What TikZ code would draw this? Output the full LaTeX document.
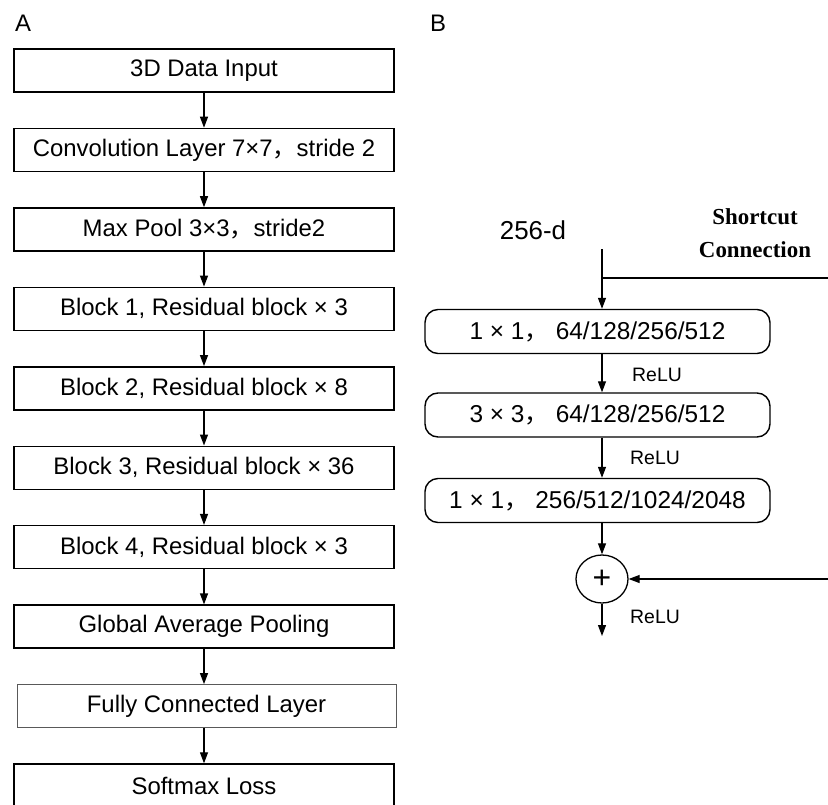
\documentclass[tikz,border=0pt]{standalone}
\usepackage{fontspec}
\setmainfont{Liberation Sans}
\newfontfamily\cjk{Noto Sans CJK SC}
\newfontfamily\tnr{Liberation Serif}
\usetikzlibrary{arrows.meta,shapes.geometric}
\newcommand{\fc}{{\cjk ，}}
\begin{document}
\begin{tikzpicture}[x=1bp,y=-1bp,
  box/.style={draw, line width=1.4bp, minimum width=380bp, minimum height=43bp, inner sep=0pt, font=\fontsize{24}{28}\selectfont},
  lightbox/.style={box, line width=0.8bp, draw=black!65, minimum width=379bp},
  rbox/.style={draw, line width=1.4bp, rounded corners=13bp, minimum width=345bp, minimum height=44bp, inner sep=0pt, font=\fontsize{24.5}{28}\selectfont},
  sumnode/.style={draw, ellipse, line width=1.3bp, minimum width=52bp, minimum height=48bp, inner sep=0pt, font=\fontsize{32}{34}\selectfont},
  arr/.style={line width=1.2bp, -{Triangle[length=11bp,width=8bp]}},
  plain/.style={line width=1.2bp},
  lbl/.style={inner sep=0pt, font=\fontsize{24}{28}\selectfont},
  relu/.style={inner sep=0pt, font=\fontsize{19.5}{22}\selectfont},
]
\useasboundingbox (0,0) rectangle (828,805);
\clip (0,0) rectangle (828,805);
% Panel labels
\node[lbl] (A) at (23,23) {A};
\node[lbl] (B) at (438,23) {B};
% Left column
\node[box] (b1) at (204,70.5) {3D Data Input};
\node[box] (b2) at (204,149.9) {Convolution Layer 7×7\fc stride 2};
\node[box] (b3) at (204,229.4) {Max Pool 3×3\fc stride2};
\node[box] (b4) at (204,308.8) {Block 1, Residual block × 3};
\node[box] (b5) at (204,388.3) {Block 2, Residual block × 8};
\node[box] (b6) at (204,467.7) {Block 3, Residual block × 36};
\node[box] (b7) at (204,547.1) {Block 4, Residual block × 3};
\node[box] (b8) at (204,626.6) {Global Average Pooling};
\node[lightbox] (b9) at (206.5,706.0) {Fully Connected Layer};
\node[box] (b10) at (204,785.5) {Softmax Loss};
\foreach \a/\b in {b1/b2,b2/b3,b3/b4,b4/b5,b5/b6,b6/b7,b7/b8,b8/b9,b9/b10}
  \draw[arr] (b1.south |- \a.south) -- (b1.south |- \b.north);
% Right column
\node[inner sep=0pt, font=\fontsize{26}{30}\selectfont] (d) at (533,230) {256-d};
\node[inner sep=0pt, align=center, font=\tnr\bfseries\fontsize{23}{33}\selectfont] (sc) at (755,233) {Shortcut\\Connection};
\node[rbox] (r1) at (597.5,331.5) {1 × 1\fc\ 64/128/256/512};
\node[rbox] (r2) at (597.5,415) {3 × 3\fc\ 64/128/256/512};
\node[rbox] (r3) at (597.5,500.5) {1 × 1\fc\ 256/512/1024/2048};
\node[sumnode] (plus) at (602,579) {+};
\coordinate (in) at (602,249);
\coordinate (split) at (602,278);
\coordinate (e1) at (830,278);
\coordinate (e2) at (830,579);
\coordinate (out) at (602,636);
\draw[arr] (in) -- (in |- r1.north);
\draw[plain] (split) -- (e1);
\draw[arr] (in |- r1.south) -- (in |- r2.north);
\draw[arr] (in |- r2.south) -- (in |- r3.north);
\draw[arr] (in |- r3.south) -- (plus.north);
\draw[arr] (e2) -- (plus.east);
\draw[arr] (plus.south) -- (out);
\node[relu] (relu1) at (657,375) {ReLU};
\node[relu] (relu2) at (655,458) {ReLU};
\node[relu] (relu3) at (655,617) {ReLU};
\end{tikzpicture}
\end{document}
